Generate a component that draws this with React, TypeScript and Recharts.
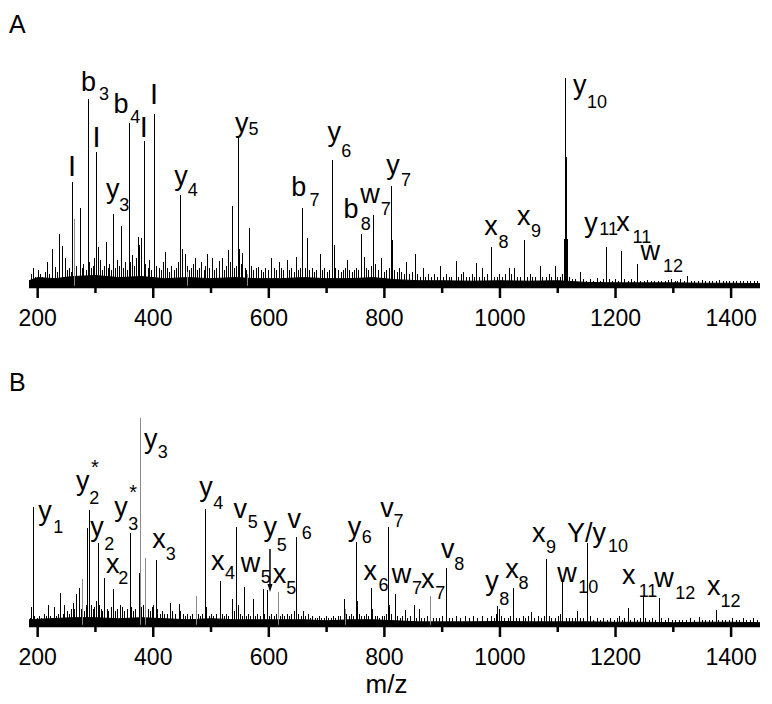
import React from 'react';
import { ComposedChart, Bar, Area, Scatter, Line, XAxis, YAxis } from 'recharts';

const FONT = '"Liberation Sans", Arial, Helvetica, sans-serif';
const W = 772;

const X_DOMAIN: [number, number] = [185, 1450];
const MAJOR_TICKS = [200, 400, 600, 800, 1000, 1200, 1400];
const MINOR_TICKS = [300, 500, 700, 900, 1100, 1300];
const ALL_TICKS = [...MAJOR_TICKS, ...MINOR_TICKS].sort((a, b) => a - b);

type Peak = [number, number];
type Lab = [string, number, number, string, number, number];

// ---------- Panel A ----------
const peaksA: Peak[] = [
  [189, 6], [193, 9], [197, 5], [201, 8], [205, 6], [209, 5], [213, 7], [217.3, 12], [221, 6], [226, 18],
  [231, 9.4], [234, 7], [237.4, 25.4], [243.3, 19.6], [247.8, 13.7], [251, 8], [255, 9], [258, 7], [261, 50.4],
  [268, 10], [273.8, 38], [277, 9], [280, 11], [284, 8], [287.6, 90], [290, 12], [293, 9], [296, 10],
  [299, 14], [302, 64.4], [305, 19.3], [309, 13], [312, 8], [315, 10], [318.8, 21.7], [322, 9], [325, 11], [328, 8],
  [331.6, 35], [335, 9], [339, 13], [341.5, 10], [344.8, 29.3], [348, 9], [352, 12], [355, 8], [358.6, 78.3], [361, 12],
  [364.5, 15.3], [368, 10], [371, 14], [374.2, 24.1], [377, 20], [380, 23.3], [384.6, 70], [387, 11], [391, 9], [394, 13],
  [397, 8], [403, 82.6], [406, 10], [410, 9], [414, 8], [417, 12], [420.4, 16.9], [424, 9], [428, 7], [432, 10],
  [436, 8], [440, 9], [443, 12], [446.6, 44], [450.4, 18], [455, 16], [459, 10], [463, 8], [467, 9], [470, 11],
  [473.6, 13.7], [477, 8], [480, 9], [484, 12], [488, 8], [491, 10], [494.4, 16], [498, 9], [502.4, 14], [506, 8],
  [510, 9], [514.5, 12.6], [520, 13.7], [524, 8], [527, 10], [530, 17.7], [533, 12], [537.5, 38.8], [541, 9], [544, 10],
  [548, 72.2], [549.5, 18], [552, 11], [555, 16.4], [559, 9], [562, 8], [566, 28], [570, 10], [574, 8], [578, 9],
  [583, 9.7], [587, 8], [591, 7], [595, 9], [599, 8], [605, 14], [609, 9], [613, 8], [618.4, 11.8], [622, 9],
  [626, 8], [632, 13], [636, 8], [640, 9], [644, 7], [648.5, 14.2], [652, 8], [655, 9], [659, 37.6], [663, 9],
  [667.5, 23.3], [671, 8], [675, 9], [679, 7], [683, 8], [689, 15.8], [693, 8], [697, 9], [701, 7], [705, 8],
  [711, 60.8], [713, 20], [716, 9], [720, 8], [725, 7], [729, 8], [733, 9], [736.8, 13], [740, 8], [744, 7],
  [748, 8], [752, 9], [756, 8], [760, 25.2], [765, 14.4], [769, 9], [773, 8], [777, 10], [782, 34.4], [785, 11],
  [789, 8], [795.7, 13.7], [800, 7], [804, 8], [808, 9], [812.5, 48.5], [814.7, 22.5], [818, 8], [822, 7], [826, 9],
  [830, 7], [834, 6], [839, 12], [844, 6], [848, 7], [853, 15.8], [858, 6], [862, 5], [867, 9], [872, 5],
  [877, 6], [882, 5], [887, 6], [892, 5], [897, 10], [902, 5], [907, 6], [912, 5], [917, 5], [924, 12.4],
  [929, 5], [933, 6], [937, 7], [942, 5], [947, 5], [952, 6], [956, 5], [960, 11.3], [964, 5], [969, 9],
  [974, 5], [978, 6], [985.5, 19.3], [990, 5], [995, 5], [1000, 6], [1005, 5], [1010, 6], [1016.6, 9], [1020, 6],
  [1025, 9], [1030, 5], [1036, 5], [1042.6, 22.5], [1047, 5], [1052, 6], [1057, 5], [1062, 5], [1069.8, 10], [1074, 5],
  [1080, 5], [1085, 6], [1090, 5], [1095.8, 10], [1100, 5], [1104, 5], [1108, 6], [1112.2, 23], [1113.6, 100], [1114.8, 62],
  [1116.2, 23], [1120, 5], [1125, 4], [1130, 4], [1139, 7.3], [1145, 4], [1150, 3], [1156, 4], [1162, 3], [1168, 4.5],
  [1174, 3], [1179, 4], [1185, 19.3], [1190, 4], [1195, 3], [1200, 4], [1205, 3], [1211, 17.2], [1216, 4], [1222, 3],
  [1228, 4], [1233, 3], [1238.8, 11], [1244, 3], [1250, 3], [1256, 3.5], [1262, 3], [1268, 3], [1274, 3], [1280, 3],
  [1286, 3], [1291, 3.5], [1297, 4], [1303, 3], [1308, 3], [1313, 4], [1319, 3], [1325, 5.3], [1331, 3], [1337, 3],
  [1343, 3], [1350, 3.5], [1356, 3], [1362, 3], [1368, 3], [1375, 3], [1380, 3.5], [1386, 3], [1392, 3], [1398, 3],
  [1404, 3], [1410, 3], [1416, 3], [1422, 3], [1428, 3], [1434, 3], [1440, 3], [1446, 3],
];
const grayPeaksA: Peak[] = [[264.6, 32.4], [459.5, 7], [562.5, 6]];
const floorA: Peak[] = [
  [185, 3], [200, 4.5], [230, 4], [260, 5], [300, 5.5], [340, 4.5], [380, 5], [420, 4], [460, 4.5], [500, 4],
  [540, 4.5], [580, 4], [620, 4], [660, 4.5], [700, 4], [740, 4], [780, 4.5], [820, 3.5], [860, 3], [900, 3],
  [950, 2.8], [1000, 3], [1050, 2.8], [1100, 3], [1150, 2.2], [1200, 2], [1250, 2], [1300, 2], [1350, 1.8],
  [1400, 1.8], [1450, 1.6],
];
const ionLabelsA: Peak[] = [[252.6, 53.3], [294.7, 66.8], [376.6, 71.9], [394.6, 87.4]];
const labelsA: Lab[] = [
  ['b', 275.1, 94.0, '3', 306.1, 89.5],
  ['b', 331.1, 83.4, '4', 360.3, 78.6],
  ['y', 318.3, 42.5, '3', 341.3, 36.4],
  ['y', 436.5, 48.8, '4', 459.7, 43.5],
  ['y', 541.6, 74.0, '5', 564.7, 72.7],
  ['y', 701.5, 69.7, '6', 725.2, 62.3],
  ['b', 638.8, 43.5, '7', 670.3, 38.8],
  ['b', 729.3, 32.9, '8', 759.3, 27.3],
  ['w', 758.1, 40.0, '7', 793.9, 34.4],
  ['y', 803.1, 54.1, '7', 828.6, 48.3],
  ['x', 972.8, 24.9, '8', 997.6, 18.5],
  ['x', 1029.4, 29.7, '9', 1053.7, 24.1],
  ['y', 1126.4, 92.4, '10', 1150.6, 85.5],
  ['y', 1146, 26.2, '11', 1172, 24.9],
  ['x', 1201.4, 26.9, '11', 1229.3, 21.2],
  ['w', 1243, 12.9, '12', 1282.3, 7.3],
];

// ---------- Panel B ----------
const peaksB: Peak[] = [
  [187, 4], [189.6, 9.3], [192.4, 57.4], [195, 5], [199, 4], [203, 5], [207, 4], [211, 6], [215, 5], [219.6, 10],
  [223, 5], [228.7, 9.3], [232, 5], [236, 6], [240.3, 15.7], [244, 6], [247.3, 10], [251, 7], [255, 6], [258, 8],
  [261.7, 11], [264.5, 8], [267.5, 15.2], [272, 18.1], [275, 8], [281, 7], [284, 10], [287, 47], [289, 55.8],
  [293, 10], [296, 8], [299, 9], [302, 12], [305, 39.7], [307, 10], [310, 8], [313, 7], [316.5, 22.9], [320, 8],
  [323, 7], [327, 9], [331.6, 17.6], [335, 7], [339, 8], [343, 10], [347, 9], [351, 7], [355, 8], [360.3, 44.5],
  [362, 9], [366, 7], [370, 8], [375.4, 25.3], [380, 9], [383, 10], [391, 8], [395, 7], [398, 9], [401, 10],
  [404.8, 31.7], [408, 8], [412, 6], [416, 7], [420, 6], [425, 6], [430.3, 11], [434, 7], [438, 6], [444.7, 10.5],
  [448, 7], [452, 6], [456, 5], [460, 6], [464, 5], [468, 6], [478, 6], [482, 5], [486, 6], [490.9, 56.2],
  [493, 9], [497, 5], [501, 6], [505, 5], [509, 6], [515.7, 21.6], [519, 6], [523, 5], [527, 6], [531, 5],
  [537.7, 13], [541, 7], [544.6, 47.8], [547, 10], [551, 6], [554, 5], [557.8, 18.6], [561, 5], [565, 6], [569, 5],
  [573.4, 13], [577, 5], [581, 6], [585, 5], [590.1, 17.6], [593, 6], [597.6, 17.3], [601, 5], [605, 6], [609, 5],
  [613, 6], [620, 5], [624, 6], [628, 5], [632, 6], [636, 5], [640, 6], [644, 7], [647.3, 42.6], [648.6, 15],
  [652, 6], [656, 5], [660, 7], [664, 5], [668, 6], [672, 4], [676, 5], [680, 4], [684, 4], [688, 5],
  [692, 4], [696, 4], [700, 5], [704, 4], [708, 4], [712, 5], [716, 4], [720, 5], [724, 5], [730.9, 13],
  [735, 6], [739, 5], [743, 6], [747, 5], [752.4, 40.5], [754, 12], [757, 6], [761, 5], [765, 5], [769, 6],
  [773, 5], [777.7, 18.1], [780, 8], [784, 5], [788, 5], [792, 4], [796, 5], [800, 5], [803, 6], [807.1, 47.8],
  [809, 10], [813, 6], [819.2, 15.2], [823, 5], [828, 4], [832, 5], [836, 7.7], [840, 4], [845, 5], [852, 10],
  [856, 4], [860.8, 8], [865, 4], [870, 4], [874, 5], [885, 4], [890, 4], [895, 4], [900, 5], [907, 27.7],
  [912, 4], [918, 4], [925, 5], [932, 4], [940, 5], [948, 4], [955, 5], [962, 4], [970, 5], [978, 4],
  [985, 5], [990, 4], [994, 6], [996.5, 9.6], [998.5, 8], [1002, 5], [1008, 4], [1014, 4], [1019, 5], [1023.6, 18.1],
  [1028, 4], [1034, 4], [1040, 5], [1045, 4], [1050, 5], [1055.4, 6.5], [1060, 4], [1066, 5], [1072, 4], [1077, 5],
  [1081.3, 32.1], [1085, 5], [1090, 4], [1096, 4], [1101, 5], [1105, 6], [1107.4, 22], [1109, 8], [1115, 4], [1120, 4],
  [1125, 4], [1130, 4], [1135, 7], [1140, 4], [1145, 4], [1150.7, 39.8], [1152, 12], [1156, 5], [1162, 3], [1168, 4],
  [1174, 3], [1180, 4], [1186, 3], [1192, 4], [1198, 3], [1203, 4], [1207, 5], [1212, 3], [1216, 4], [1221.6, 8.5],
  [1226, 3], [1232, 4], [1238, 3], [1243, 4], [1248.6, 14.1], [1252, 4], [1258, 3], [1264, 4], [1270, 3], [1275.8, 13.6],
  [1280, 4], [1286, 3], [1292, 4], [1298, 3], [1304, 3], [1310, 3], [1316, 3], [1322, 3], [1330, 4], [1336, 3],
  [1345, 4.5], [1350, 3], [1356, 3], [1362, 3], [1368, 3], [1374.5, 7.7], [1379, 3], [1385, 3], [1391, 3], [1397, 3],
  [1403, 4], [1409, 3], [1415, 3], [1421, 4], [1427, 3], [1433, 3], [1439, 4], [1445, 3],
];
const grayPeaksB: Peak[] = [[277.2, 22.4], [377.1, 100], [387, 32.5], [474.1, 14.4], [616.6, 16.2], [733, 8], [879.3, 14.4]];
const floorB: Peak[] = [
  [185, 3], [220, 3.5], [260, 4], [300, 4], [340, 3.5], [380, 4], [420, 3.5], [460, 3], [500, 3.5], [540, 3],
  [580, 3], [620, 3], [660, 3], [700, 2.5], [740, 3], [780, 3], [820, 2.5], [860, 2], [900, 2], [950, 2],
  [1000, 2.2], [1050, 2], [1100, 2], [1150, 2], [1200, 1.8], [1250, 1.8], [1300, 1.6], [1350, 1.8], [1400, 1.8],
  [1450, 1.6],
];
const labelsB: Lab[] = [
  ['y', 201, 51.0, '1', 227, 44.6],
  ['y', 266.3, 65.5, '2', 289.4, 58.5],
  ['y', 290.8, 43.4, '2', 315.3, 36.5],
  ['x', 318.3, 25.3, '2', 339.6, 20],
  ['y', 332.6, 52.7, '3', 356.9, 46.2],
  ['y', 384.1, 85.5, '3', 407.8, 80.6],
  ['x', 398.4, 37.4, '3', 421.6, 31.7],
  ['y', 479.8, 62.3, '4', 504, 56.1],
  ['x', 500.1, 26.9, '4', 524.3, 22.6],
  ['v', 538.7, 52.1, '5', 563.6, 47],
  ['w', 551.5, 26.1, '5', 586.1, 20.5],
  ['y', 590.6, 43.4, '5', 613.9, 36.2],
  ['x', 606.9, 20.5, '5', 630, 15.4],
  ['v', 632.2, 47, '6', 657.1, 41.7],
  ['y', 736.8, 43.1, '6', 761, 39.8],
  ['x', 763.7, 22.1, '6', 789.8, 17],
  ['v', 792.7, 52.5, '7', 815.8, 47.7],
  ['w', 812.9, 20.5, '7', 847.6, 15.2],
  ['x', 863.2, 18.1, '7', 888, 12.8],
  ['v', 897.8, 32.5, '8', 920.9, 26.9],
  ['y', 974.5, 17.1, '8', 998.8, 10.1],
  ['x', 1009.2, 22.9, '8', 1032.2, 17.6],
  ['x', 1055.4, 40.2, '9', 1079.7, 35],
  ['Y/y', 1116, 40.3, '10', 1187, 35.5],
  ['w', 1099, 21.3, '10', 1135.4, 15.7],
  ['x', 1211.3, 20, '11', 1240, 14.1],
  ['w', 1267.2, 18.9, '12', 1303.5, 12.8],
  ['x', 1358.4, 14.9, '12', 1381.5, 9.3],
];
const starLabelsB: Peak[] = [[292.3, 73.1], [358.6, 61]];
const arrowShaftB: Peak[] = [[602, 37], [602, 18]];
const arrowTipB: Peak[] = [[602, 16.3]];

// ---------- helpers ----------
function buildRows(black: Peak[], gray: Peak[]) {
  const rows = [
    ...black.map(([mz, v]) => ({ mz, black: v, gray: 0 })),
    ...gray.map(([mz, v]) => ({ mz, black: 0, gray: v })),
  ];
  rows.sort((a, b) => a.mz - b.mz);
  return rows;
}
const pts = (p: Peak[]) => p.map(([mz, lvl]) => ({ mz, lvl }));
const mainOf = (l: Lab[]) => l.map(([t, mz, lvl]) => ({ mz, lvl, t }));
const subOf = (l: Lab[]) => l.map(([, , , t, mz, lvl]) => ({ mz, lvl, t }));
const withText = (p: Peak[], t: string) => p.map(([mz, lvl]) => ({ mz, lvl, t }));

const Spike = (props: any) => {
  const { x, y, width, height, fill } = props;
  if (!height || height <= 0 || !isFinite(x)) return <g />;
  const c = x + (width || 0) / 2;
  return <rect x={Math.round(c - 0.5)} y={y} width={1} height={height} fill={fill} shapeRendering="crispEdges" />;
};

const textShape = (size: number) => (props: any) => {
  const { cx, cy, payload } = props;
  if (cx == null || cy == null) return <g />;
  return (
    <text x={cx} y={cy} fontSize={size} fontFamily={FONT} fill="#000">
      {payload.t}
    </text>
  );
};

const ArrowHead = (props: any) => {
  const { cx, cy } = props;
  if (cx == null || cy == null) return <g />;
  return <polygon points={`${cx - 2.5},${cy - 8} ${cx + 2.5},${cy - 8} ${cx},${cy}`} fill="#000" />;
};

const AxisTick = (props: any) => {
  const { x, y, payload } = props;
  const major = MAJOR_TICKS.includes(payload.value);
  return (
    <g>
      <line x1={x} x2={x} y1={y} y2={y + (major ? 11 : 6)} stroke="#000" strokeWidth={2.5} />
      {major ? (
        <text x={x} y={y + 23} dy="0.716em" textAnchor="middle" fontSize={23} fontFamily={FONT} fill="#000">
          {payload.value}
        </text>
      ) : null}
    </g>
  );
};

type PanelProps = {
  black: Peak[];
  gray: Peak[];
  floor: Peak[];
  labels: Lab[];
  ions?: Peak[];
  stars?: Peak[];
  shaft?: Peak[];
  tip?: Peak[];
  height: number;
  axisHeight: number;
  xLabel?: string;
};

function Panel(p: PanelProps) {
  const rows = buildRows(p.black, p.gray);
  return (
    <ComposedChart width={W} height={p.height} data={rows} margin={{ top: 78, right: 12, left: 29, bottom: 0 }}>
      <XAxis
        type="number"
        dataKey="mz"
        domain={X_DOMAIN}
        ticks={ALL_TICKS}
        interval={0}
        tickSize={0}
        tickMargin={0}
        tickLine={false}
        axisLine={{ stroke: '#000', strokeWidth: 2.5 }}
        tick={(tp: any) => <AxisTick {...tp} />}
        height={p.axisHeight}
        label={
          p.xLabel
            ? {
                value: p.xLabel,
                position: 'insideBottom',
                offset: 11,
                dx: -8,
                style: { fontSize: 26, fontFamily: FONT, fill: '#000' },
              }
            : undefined
        }
      />
      <YAxis hide type="number" domain={[0, 100]} />
      <Area
        data={pts(p.floor)}
        dataKey="lvl"
        type="linear"
        stroke="#000"
        strokeWidth={1}
        fill="#000"
        fillOpacity={1}
        dot={false}
        activeDot={false}
        isAnimationActive={false}
      />
      <Bar dataKey="black" stackId="s" fill="#000" barSize={1} shape={Spike} isAnimationActive={false} />
      <Bar dataKey="gray" stackId="s" fill="#8a8a8a" barSize={1} shape={Spike} isAnimationActive={false} />
      {p.shaft ? (
        <Line data={pts(p.shaft)} dataKey="lvl" stroke="#000" strokeWidth={1.5} dot={false} activeDot={false} isAnimationActive={false} />
      ) : null}
      {p.tip ? <Scatter data={pts(p.tip)} dataKey="lvl" shape={ArrowHead} isAnimationActive={false} /> : null}
      <Scatter data={mainOf(p.labels)} dataKey="lvl" shape={textShape(27)} isAnimationActive={false} />
      <Scatter data={subOf(p.labels)} dataKey="lvl" shape={textShape(18)} isAnimationActive={false} />
      {p.ions ? <Scatter data={withText(p.ions, 'I')} dataKey="lvl" shape={textShape(29)} isAnimationActive={false} /> : null}
      {p.stars ? <Scatter data={withText(p.stars, '*')} dataKey="lvl" shape={textShape(20)} isAnimationActive={false} /> : null}
    </ComposedChart>
  );
}

const panelLetter: React.CSSProperties = {
  position: 'absolute',
  fontFamily: FONT,
  fontSize: 25,
  lineHeight: '25px',
  color: '#000',
};

export default function App() {
  return (
    <div style={{ position: 'absolute', left: 0, top: 0, width: W, height: 704, background: '#fff', overflow: 'hidden' }}>
      <div style={{ position: 'absolute', left: 0, top: 0 }}>
        <Panel black={peaksA} gray={grayPeaksA} floor={floorA} labels={labelsA} ions={ionLabelsA} height={340} axisHeight={53} />
      </div>
      <div style={{ position: 'absolute', left: 0, top: 340 }}>
        <Panel
          black={peaksB}
          gray={grayPeaksB}
          floor={floorB}
          labels={labelsB}
          stars={starLabelsB}
          shaft={arrowShaftB}
          tip={arrowTipB}
          height={364}
          axisHeight={78}
          xLabel="m/z"
        />
      </div>
      <div style={{ ...panelLetter, left: 9, top: 12 }}>A</div>
      <div style={{ ...panelLetter, left: 9, top: 370 }}>B</div>
    </div>
  );
}
